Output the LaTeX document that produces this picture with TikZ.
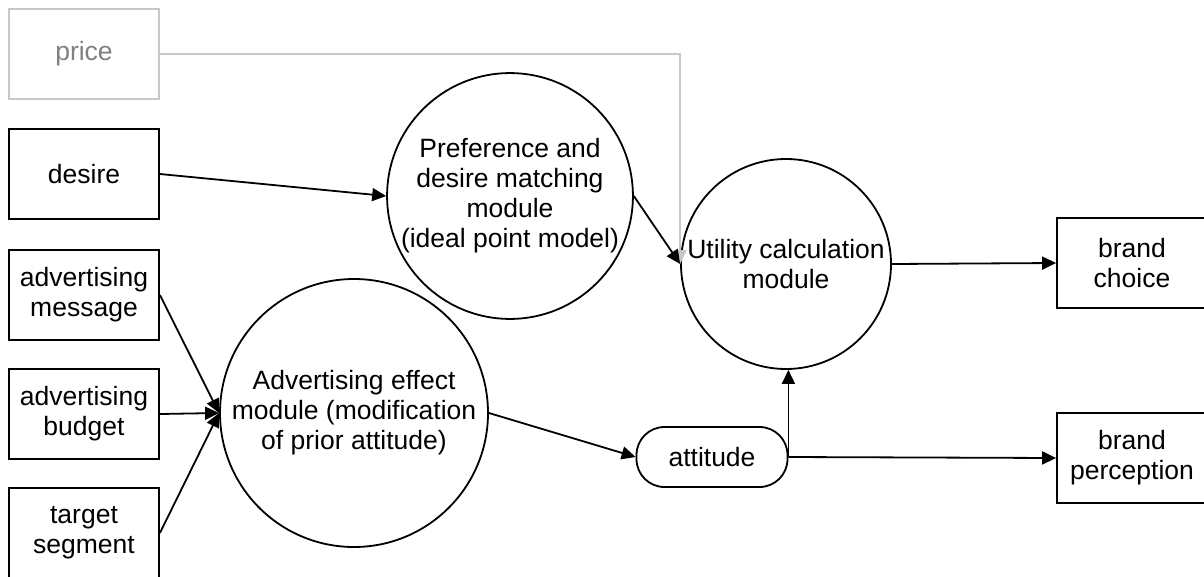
\documentclass[tikz,border=0pt]{standalone}
\usepackage{fontspec}
\setmainfont{Liberation Sans}
\usetikzlibrary{arrows.meta}
\definecolor{lightline}{HTML}{C8C8C8}
\definecolor{lighttext}{HTML}{808080}
\tikzset{
  labelfont/.style={font=\fontsize{26.5}{30}\selectfont},
  box/.style={draw, line width=1.8pt, minimum width=150pt, minimum height=90pt,
    inner sep=2pt, align=center, labelfont},
  greybox/.style={box, draw=lightline, text=lighttext},
  module/.style={draw, circle, line width=1.8pt, inner sep=0pt, align=center,
    labelfont},
  pill/.style={draw, line width=1.8pt, rounded corners=28pt, minimum width=151pt,
    minimum height=60pt, inner sep=0pt, labelfont},
  link/.style={line width=1.8pt, -{Triangle[length=14pt,width=13pt]}},
  greylink/.style={link, draw=lightline, -{Triangle[length=14pt,width=13pt,fill=lightline]}}
}
\begin{document}
\begin{tikzpicture}[x=1pt,y=-1pt]
  \useasboundingbox (0,0) rectangle (1204,576);
  \begin{scope}
  \clip (0,0) rectangle (1204,576);
  % inputs on the left
  \node[greybox] (price) at (84,54) {price};
  \node[box] (desire) at (84,174) {desire};
  \node[box] (msg) at (84,295) {advertising\\message};
  \node[box] (budget) at (84,414) {advertising\\budget};
  \node[box] (target) at (84,533) {target\\segment};
  % processing modules
  \node[module, minimum size=226pt] (pref) at (510,196)
    {Preference and\\desire matching\\module\\(ideal point model)};
  \node[module, minimum size=268pt] (adv) at (354,413)
    {Advertising effect\\module (modification\\of prior attitude)};
  \node[module, minimum size=210pt] (util) at (786,264)
    {Utility calculation\\module};
  \node[pill] (att) at (712,457) {attitude};
  % outputs on the right
  \node[box] (choice) at (1132,263) {brand\\choice};
  \node[box] (percep) at (1132,458) {brand\\perception};
  % connectors
  \draw[greylink] (price.east) -| (util.west);
  \draw[link] (desire.east) -- (pref.west);
  \draw[link] (pref.east) -- (util.west);
  \draw[link] (msg.east) -- (adv.west);
  \draw[link] (budget.east) -- (adv.west);
  \draw[link] (target.east) -- (adv.west);
  \draw[link] (adv.east) -- (att.west);
  \draw[link] (att.east) -- (att.east |- util.south);
  \draw[link] (att.east) -- (percep.west);
  \draw[link] (util.east) -- (choice.west);
  \end{scope}
\end{tikzpicture}
\end{document}
